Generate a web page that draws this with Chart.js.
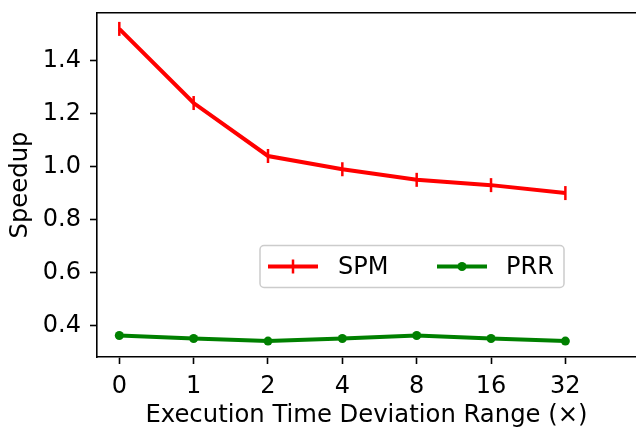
<!DOCTYPE html>
<html>
<head>
<meta charset="utf-8">
<script src="https://cdn.jsdelivr.net/npm/chart.js@4.4.1/dist/chart.umd.min.js"></script>
<style>
  html, body { margin: 0; padding: 0; background: #fff; }
  #wrap { width: 636px; height: 430px; }
</style>
</head>
<body>
<div id="wrap"><canvas id="myChart" width="636" height="430"></canvas></div>
<script>
// Data
var categories = ["0", "1", "2", "4", "8", "16", "32"];
var spmValues = [1.52, 1.24, 1.04, 0.99, 0.95, 0.93, 0.90];
var prrValues = [0.362, 0.351, 0.341, 0.351, 0.362, 0.351, 0.341];
var yTicks = [0.4, 0.6, 0.8, 1.0, 1.2, 1.4];

const FONT = "'DejaVu Sans', sans-serif";

function toPoints(values) {
  return values.map((v, i) => ({ x: i, y: v }));
}

// no automatic label padding, the plot box is placed by hand
function noPadding(s) {
  s.paddingTop = 0;
  s.paddingBottom = 0;
  s.paddingLeft = 0;
  s.paddingRight = 0;
}

// Legend drawn inside the plot like matplotlib's
const insideLegend = {
  id: "insideLegend",
  afterDraw(chart) {
    var ctx = chart.ctx;
    var area = chart.chartArea;
    var x0 = area.left + 163, y0 = area.top + 232.5;
    var w = 304, h = 42;
    ctx.save();
    ctx.beginPath();
    ctx.roundRect(x0, y0, w, h, 4);
    ctx.fillStyle = "rgba(255,255,255,0.8)";
    ctx.fill();
    ctx.lineWidth = 1.5;
    ctx.strokeStyle = "#cccccc";
    ctx.stroke();

    var cy = y0 + h / 2;
    var entries = [
      { ds: chart.data.datasets[0], lx: x0 + 8, tx: x0 + 78 },
      { ds: chart.data.datasets[1], lx: x0 + 177, tx: x0 + 246 }
    ];
    entries.forEach((e) => {
      ctx.strokeStyle = e.ds.borderColor;
      ctx.lineWidth = e.ds.borderWidth;
      ctx.beginPath();
      ctx.moveTo(e.lx, cy);
      ctx.lineTo(e.lx + 50, cy);
      ctx.stroke();
      var mx = e.lx + 25;
      if (e.ds.pointStyle === "line") {
        ctx.lineWidth = e.ds.pointBorderWidth;
        ctx.beginPath();
        ctx.moveTo(mx, cy - e.ds.pointRadius);
        ctx.lineTo(mx, cy + e.ds.pointRadius);
        ctx.stroke();
      } else {
        ctx.fillStyle = e.ds.backgroundColor;
        ctx.beginPath();
        ctx.arc(mx, cy, e.ds.pointRadius, 0, Math.PI * 2);
        ctx.fill();
      }
      ctx.fillStyle = "#000";
      ctx.font = "24px " + FONT;
      ctx.textBaseline = "middle";
      ctx.textAlign = "left";
      ctx.fillText(e.ds.label, e.tx, cy + 1);
    });
    ctx.restore();
  }
};

var ctx = document.getElementById("myChart").getContext("2d");
var myChart = new Chart(ctx, {
  type: "line",
  data: {
    datasets: [
      {
        label: "SPM",
        data: toPoints(spmValues),
        borderColor: "#ff0000",
        backgroundColor: "#ff0000",
        borderWidth: 4,
        pointStyle: "line",
        pointRotation: 90,
        pointRadius: 7,
        pointBorderWidth: 2.5,
        pointHoverRadius: 7,
        tension: 0
      },
      {
        label: "PRR",
        data: toPoints(prrValues),
        borderColor: "#008000",
        backgroundColor: "#008000",
        borderWidth: 4,
        pointStyle: "circle",
        pointRadius: 4.5,
        pointBorderWidth: 0,
        pointHoverRadius: 4.5,
        tension: 0
      }
    ]
  },
  options: {
    responsive: false,
    animation: false,
    events: [],
    layout: { autoPadding: false, padding: { top: 13, right: 0, bottom: 0, left: 0 } },
    plugins: {
      legend: { display: false },
      tooltip: { enabled: false }
    },
    scales: {
      x: {
        type: "linear",
        position: "bottom",
        min: -0.3,
        max: 6.95,
        afterBuildTicks: (s) => { s.ticks = categories.map((c, i) => ({ value: i })); },
        afterFit: (s) => { s.height = 73; noPadding(s); },
        ticks: {
          color: "#000",
          padding: 8,
          font: { family: FONT, size: 24 },
          maxRotation: 0,
          callback: (v) => categories[v]
        },
        grid: { display: true, drawOnChartArea: false, drawTicks: true, tickLength: 7, tickWidth: 1.6, tickColor: "#000" },
        border: { display: true, color: "#000", width: 1.6 },
        title: {
          display: true,
          text: "Execution Time Deviation Range (×)",
          color: "#000",
          font: { family: FONT, size: 24.3 },
          padding: { top: 0, bottom: 0 }
        }
      },
      x2: {
        type: "linear",
        position: "top",
        min: 0,
        max: 1,
        afterFit: (s) => { s.height = 0; noPadding(s); },
        ticks: { display: false },
        grid: { display: false, drawTicks: false },
        border: { display: true, color: "#000", width: 1.6 }
      },
      y: {
        min: 0.281,
        max: 1.58,
        afterBuildTicks: (s) => { s.ticks = yTicks.map((v) => ({ value: v })); },
        afterFit: (s) => { s.width = 97; noPadding(s); },
        ticks: {
          color: "#000",
          padding: 9,
          font: { family: FONT, size: 24 },
          callback: (v) => v.toFixed(1)
        },
        grid: { display: true, drawOnChartArea: false, drawTicks: true, tickLength: 7, tickWidth: 1.6, tickColor: "#000" },
        border: { display: true, color: "#000", width: 1.6 },
        title: {
          display: true,
          text: "Speedup",
          color: "#000",
          font: { family: FONT, size: 24.3 },
          padding: { top: 6, bottom: 0 }
        }
      }
    }
  },
  plugins: [insideLegend]
});
</script>
</body>
</html>
